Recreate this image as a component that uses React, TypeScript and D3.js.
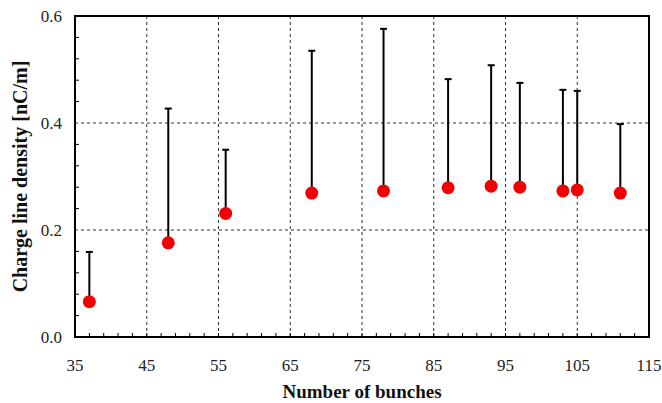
import React from 'react';
import * as d3 from 'd3';

// bunches vs. charge line density, with upper error bar
const bunches = [37, 48, 56, 68, 78, 87, 93, 97, 103, 105, 111];
const density = [0.066, 0.176, 0.231, 0.269, 0.273, 0.279, 0.282, 0.280, 0.273, 0.275, 0.269];
const upper = [0.159, 0.427, 0.350, 0.535, 0.576, 0.482, 0.508, 0.475, 0.462, 0.460, 0.398];

const xTicks = [35, 45, 55, 65, 75, 85, 95, 105, 115];
const yTicks = [0.0, 0.2, 0.4, 0.6];

const width = 662;
const height = 403;
const margin = { top: 16, right: 13, bottom: 66, left: 75 };

const App = () => {
    const x = d3
        .scaleLinear()
        .domain([35, 115])
        .range([margin.left, width - margin.right]);
    const y = d3
        .scaleLinear()
        .domain([0, 0.6])
        .range([height - margin.bottom, margin.top]);

    const [x0, x1] = x.range();
    const [y0, y1] = y.range();
    const font = "'Liberation Serif', 'Times New Roman', serif";

    const xMinor = d3.range(37, 115, 2);
    const yMinor = d3.range(0.04, 0.6, 0.04).filter((v) => Math.abs(v * 5 - Math.round(v * 5)) > 0.01);

    return (
        <svg width={width} height={height} style={{ position: 'absolute', left: 0, top: 0 }}>
            <rect x={0} y={0} width={width} height={height} fill='white' />
            {/* grid */}
            {xTicks.slice(1, -1).map((t) => (
                <line key={'gx' + t} x1={x(t)} x2={x(t)} y1={y0} y2={y1}
                    stroke='#333' strokeWidth={1} strokeDasharray='3,3' />
            ))}
            {yTicks.slice(1, -1).map((t) => (
                <line key={'gy' + t} x1={x0} x2={x1} y1={y(t)} y2={y(t)}
                    stroke='#333' strokeWidth={1} strokeDasharray='3,3' />
            ))}
            {/* minor ticks */}
            {xMinor.map((t) => (
                <line key={'mx' + t} x1={x(t)} x2={x(t)} y1={y0} y2={y0 - 4} stroke='black' strokeWidth={1} />
            ))}
            {yMinor.map((t) => (
                <line key={'my' + t} x1={x0} x2={x0 + 4} y1={y(t)} y2={y(t)} stroke='black' strokeWidth={1} />
            ))}
            {/* frame */}
            <rect x={x0} y={y1} width={x1 - x0} height={y0 - y1} fill='none' stroke='black' strokeWidth={2} />
            {/* error bars */}
            {bunches.map((b, i) => (
                <g key={'e' + i}>
                    <line x1={x(b)} x2={x(b)} y1={y(density[i])} y2={y(upper[i])} stroke='black' strokeWidth={2} />
                    <line x1={x(b) - 3.5} x2={x(b) + 3.5} y1={y(upper[i])} y2={y(upper[i])} stroke='black' strokeWidth={2} />
                </g>
            ))}
            {/* points */}
            {bunches.map((b, i) => (
                <circle key={'p' + i} cx={x(b)} cy={y(density[i])} r={6.5} fill='#f20000' />
            ))}
            {/* tick labels */}
            {xTicks.map((t) => (
                <text key={'tx' + t} x={x(t)} y={y0 + 34} textAnchor='middle'
                    fontFamily={font} fontSize={17} fill='#222'>{t}</text>
            ))}
            {yTicks.map((t) => (
                <text key={'ty' + t} x={x0 - 13} y={y(t) + 5.5} textAnchor='end'
                    fontFamily={font} fontSize={17} fill='#222'>{t.toFixed(1)}</text>
            ))}
            {/* axis titles */}
            <text x={362} y={398} textAnchor='middle' fontFamily={font}
                fontSize={19} fontWeight='bold' fill='#111'>Number of bunches</text>
            <text transform={`translate(27, ${(y0 + y1) / 2}) rotate(-90)`} textAnchor='middle'
                fontFamily={font} fontSize={20} fontWeight='bold' fill='#111'>Charge line density [nC/m]</text>
        </svg>
    );
};

export default App;
